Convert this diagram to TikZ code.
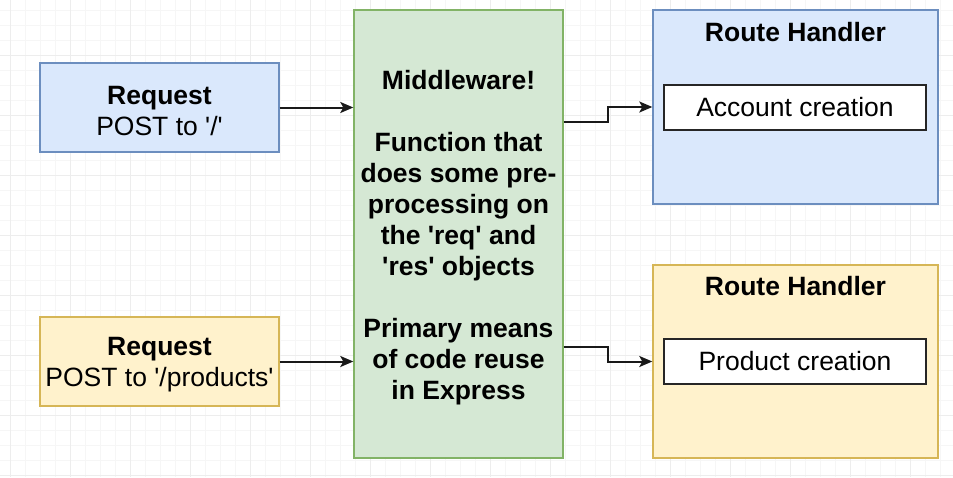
\documentclass[tikz,border=0pt]{standalone}
\usepackage{fontspec}
\setmainfont{Liberation Sans}[Ligatures=TeXOff]
\usetikzlibrary{arrows.meta}
\definecolor{bfill}{HTML}{DAE8FC}
\definecolor{bline}{HTML}{6C8EBF}
\definecolor{yfill}{HTML}{FFF2CC}
\definecolor{yline}{HTML}{D6B656}
\definecolor{gfill}{HTML}{D5E8D4}
\definecolor{gline}{HTML}{82B366}
\definecolor{gridminor}{HTML}{F6F6F6}
\definecolor{gridmajor}{HTML}{EDEDED}
\tikzset{
  box/.style={draw, line width=1.4pt, inner sep=0pt, align=center,
    font=\fontsize{26.5}{31}\selectfont},
  bluebox/.style={box, fill=bfill, draw=bline},
  yellowbox/.style={box, fill=yfill, draw=yline},
  greenbox/.style={box, fill=gfill, draw=gline},
  innerbox/.style={box, fill=white, draw=black!85, line width=1.8pt},
  boxtext/.style={inner sep=0pt, align=center, font=\fontsize{26.5}{31}\selectfont},
  titletext/.style={inner sep=0pt, font=\fontsize{26.5}{31}\selectfont\bfseries},
  arr/.style={draw=black!90, line width=2pt, -{Stealth[length=13pt,width=11pt,inset=3pt]}},
}
\begin{document}
\begin{tikzpicture}[x=1pt,y=-1pt]
\useasboundingbox (0,0) rectangle (953,477);
\fill[white] (0,0) rectangle (953,477);
% grid
\foreach \x in {10,25,...,953} \draw[gridminor, line width=0.8pt] (\x,0) -- (\x,477);
\foreach \y in {10,25,...,477} \draw[gridminor, line width=0.8pt] (0,\y) -- (953,\y);
\foreach \x in {10,70,...,953} \draw[gridmajor, line width=1pt] (\x,0) -- (\x,477);
\foreach \y in {55,115,...,477} \draw[gridmajor, line width=1pt] (0,\y) -- (953,\y);

% request boxes
\node[bluebox, minimum width=239pt, minimum height=89pt] (r1) at (159.5,107.5) {};
\node[boxtext] (r1t) at (159.5,111) {\textbf{Request}\\POST to '/'};
\node[yellowbox, minimum width=239pt, minimum height=89pt] (r2) at (159.5,361.5) {};
\node[boxtext] (r2t) at (159.5,365) {\textbf{Request}\\POST to '/products'};

% middleware
\node[greenbox, minimum width=209pt, minimum height=448pt] (mw) at (458.5,234) {};
\node[boxtext] (mwt) at (458.5,237.5)
  {\textbf{Middleware!}\\[31pt]
   \textbf{Function that}\\ \textbf{does some pre-}\\ \textbf{processing on}\\
   \textbf{the 'req' and}\\ \textbf{'res' objects}\\[31pt]
   \textbf{Primary means}\\ \textbf{of code reuse}\\ \textbf{in Express}};

% route handlers
\node[bluebox, minimum width=285pt, minimum height=194pt] (rh1) at (795.5,107) {};
\node[titletext] (rh1t) at (795.5,32) {Route Handler};
\node[innerbox, minimum width=262pt, minimum height=45pt] (ac) at (795,107.5) {Account creation};

\node[yellowbox, minimum width=285pt, minimum height=193pt] (rh2) at (795.5,361.5) {};
\node[titletext] (rh2t) at (795.5,286) {Route Handler};
\node[innerbox, minimum width=262pt, minimum height=45pt] (pc) at (795,361.5) {Product creation};

% connectors
\draw[arr] (r1.east) -- (r1.east -| mw.west);
\draw[arr] (r2.east) -- (r2.east -| mw.west);
\coordinate (m1) at (mw.east |- 0,122);
\coordinate (m2) at (mw.east |- 0,347);
\draw[arr] (m1) -- (608,122) -- (608,107) -- (rh1.west);
\draw[arr] (m2) -- (608,347) -- (608,361.5) -- (rh2.west);
\end{tikzpicture}
\end{document}
